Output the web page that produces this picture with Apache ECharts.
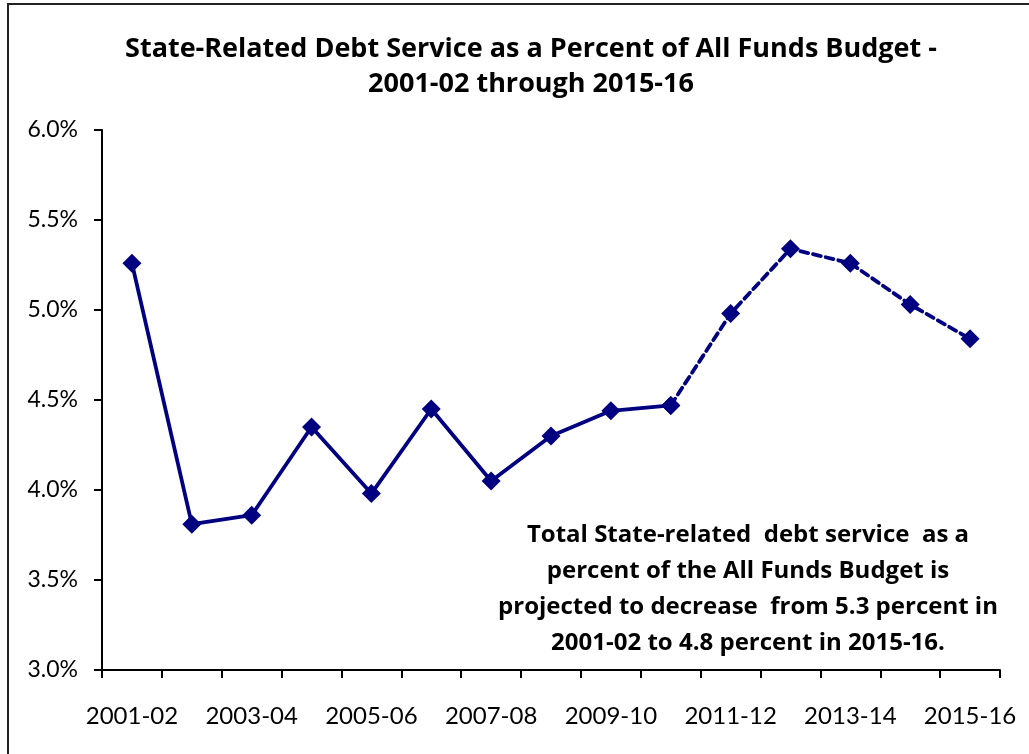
<!DOCTYPE html>
<html>
<head>
<meta charset="utf-8">
<title>State-Related Debt Service as a Percent of All Funds Budget</title>
<script src="https://cdn.jsdelivr.net/npm/echarts@6/dist/echarts.min.js"></script>
<style>
  html, body { margin: 0; padding: 0; background: #ffffff; }
  #chart { width: 1029px; height: 754px; }
</style>
</head>
<body>
<div id="chart"></div>
<script>
// Fiscal years shown on the category axis
const fiscalYears = ['2001-02', '2002-03', '2003-04', '2004-05', '2005-06', '2006-07', '2007-08',
  '2008-09', '2009-10', '2010-11', '2011-12', '2012-13', '2013-14', '2014-15', '2015-16'];

// Debt service as a percent of the All Funds Budget
const debtServicePct = [5.26, 3.81, 3.86, 4.35, 3.98, 4.45, 4.05, 4.30, 4.44, 4.47,
  4.98, 5.34, 5.26, 5.03, 4.84];

// Index of the last actual year; later years are projections (dashed)
const lastActualIndex = 9;

const titleLines = ['State-Related Debt Service as a Percent of All Funds Budget -', '2001-02 through 2015-16'];
const noteLines = [
  'Total State-related  debt service  as a',
  'percent of the All Funds Budget is',
  'projected to decrease  from 5.3 percent in',
  '2001-02 to 4.8 percent in 2015-16.'
];

const actual = debtServicePct.map((v, i) => (i <= lastActualIndex ? v : '-'));
const projected = debtServicePct.map((v, i) => (i >= lastActualIndex ? v : '-'));

const navy = '#000080';
const axisFont = 'Lato, "Open Sans", sans-serif';
const boldFont = '"Open Sans", Lato, sans-serif';

const chart = echarts.init(document.getElementById('chart'));
chart.setOption({
  animation: false,
  backgroundColor: '#ffffff',
  title: {
    text: titleLines.join('\n'),
    left: 526,
    top: 27,
    textAlign: 'center',
    textStyle: {
      fontFamily: boldFont,
      fontWeight: 'bold',
      fontSize: 27,
      lineHeight: 35,
      color: '#000000'
    }
  },
  grid: { left: 102, right: 29, top: 130, bottom: 84, containLabel: false },
  xAxis: {
    type: 'category',
    data: fiscalYears,
    boundaryGap: true,
    axisLine: { lineStyle: { color: '#000000', width: 2 } },
    axisTick: { show: true, length: 8, interval: 0, inside: false, lineStyle: { color: '#000000', width: 2 } },
    axisLabel: {
      interval: 1,
      margin: 34,
      fontFamily: axisFont,
      fontSize: 24,
      color: '#000000'
    },
    splitLine: { show: false }
  },
  yAxis: {
    type: 'value',
    min: 3,
    max: 6,
    interval: 0.5,
    axisLine: { show: true, lineStyle: { color: '#000000', width: 2 } },
    axisTick: { show: true, length: 8, lineStyle: { color: '#000000', width: 2 } },
    axisLabel: {
      margin: 24,
      fontFamily: axisFont,
      fontSize: 23,
      color: '#000000',
      formatter: v => v.toFixed(1) + '%'
    },
    splitLine: { show: false }
  },
  series: [
    {
      name: 'Actual',
      type: 'line',
      data: actual,
      symbol: 'diamond',
      symbolSize: 19,
      itemStyle: { color: navy },
      lineStyle: { color: navy, width: 3.8 },
      z: 3
    },
    {
      name: 'Projected',
      type: 'line',
      data: projected,
      symbol: 'diamond',
      symbolSize: 19,
      itemStyle: { color: navy },
      lineStyle: { color: navy, width: 3.8, type: [8, 5], cap: 'round' },
      z: 2
    }
  ],
  graphic: [
    {
      type: 'rect',
      silent: true,
      shape: { x: 8, y: 4, width: 1040, height: 770 },
      style: { fill: 'none', stroke: '#222222', lineWidth: 2 }
    },
    {
      type: 'text',
      silent: true,
      x: 748,
      y: 517,
      style: {
        text: noteLines.join('\n'),
        align: 'center',
        verticalAlign: 'top',
        fontFamily: boldFont,
        fontWeight: 'bold',
        fontSize: 24,
        lineHeight: 36,
        fill: '#000000'
      }
    }
  ]
});
</script>
</body>
</html>
